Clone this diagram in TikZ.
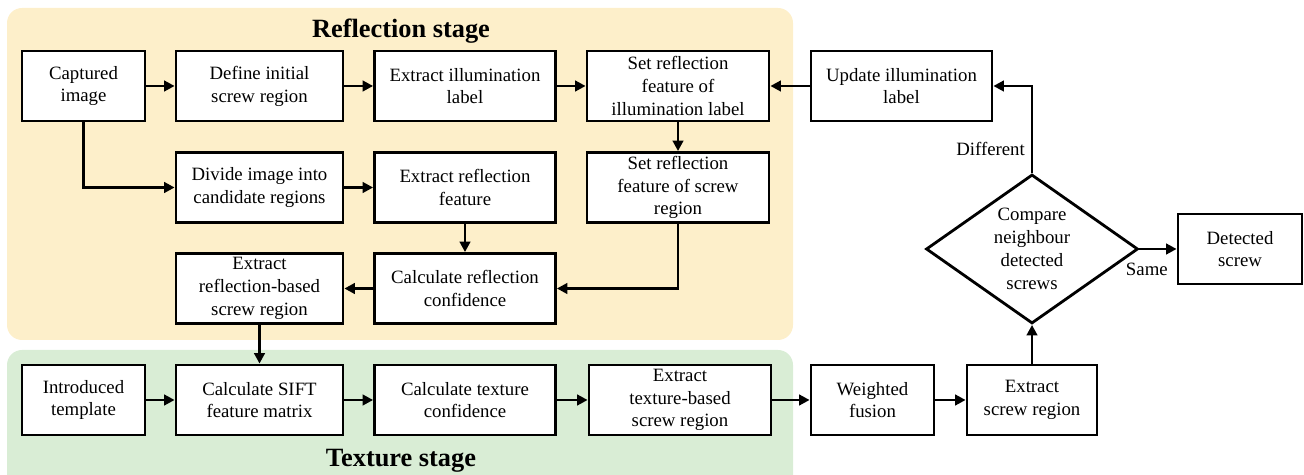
\documentclass[tikz,border=0pt]{standalone}
\usepackage{fontspec}
\setmainfont{Liberation Serif}
\usepackage{tikz}
\usetikzlibrary{
  arrows.meta,      % Triangle 箭头
  shapes.geometric  % 菱形判断框
}

\definecolor{stageyellow}{RGB}{253,239,202}
\definecolor{stagegreen}{RGB}{217,237,213}

\begin{document}
\begin{tikzpicture}[x=0.02cm, y=-0.02cm, >={Triangle[length=6pt,width=6pt]}, line width=1.5pt,
  box/.style={draw, line width=1.6pt, fill=white, align=center, minimum height=1.4cm,
    inner sep=2pt, font=\fontsize{10.7}{13}\selectfont},
  decide/.style={draw, diamond, aspect=1.42, line width=1.6pt, fill=white, align=center,
    inner sep=0pt, minimum width=4.24cm, minimum height=2.98cm, font=\fontsize{10.7}{13}\selectfont},
  stagetitle/.style={font=\bfseries\fontsize{15}{18}\selectfont},
  branch/.style={font=\fontsize{10.7}{13}\selectfont}]

  \clip (0,0) rectangle (1304,475);

  % =========== 背景：两个阶段 ===========
  \fill[stageyellow, rounded corners=0.3cm] (7,8) rectangle (793,340);
  \fill[stagegreen, rounded corners=0.3cm] (7,350) rectangle (793,500);
  \node[stagetitle] (reftitle) at (401,31) {Reflection stage};
  \node[stagetitle] (textitle) at (401,461) {Texture stage};

  % =========== 反射阶段 ===========
  % 第一行
  \node[box, minimum width=2.46cm] (capt) at (83.5,86) {Captured\\image};
  \node[box, minimum width=3.34cm] (defreg) at (259.5,86) {Define initial\\screw region};
  \node[box, minimum width=3.62cm] (exlabel) at (465,86) {Extract illumination\\label};
  \node[box, minimum width=3.64cm] (setlabel) at (678,86) {Set reflection\\feature of\\illumination label};
  \node[box, minimum width=3.62cm] (update) at (901.5,86) {Update illumination\\label};

  % 第二行
  \node[box, minimum width=3.34cm] (divide) at (259.5,187.5) {Divide image into\\candidate regions};
  \node[box, minimum width=3.62cm] (exfeat) at (465,187.5) {Extract reflection\\feature};
  \node[box, minimum width=3.64cm] (setscrew) at (678,187.5) {Set reflection\\feature of screw\\region};

  % 第三行
  \node[box, minimum width=3.34cm] (exrefl) at (259.5,288.5) {Extract\\reflection-based\\screw region};
  \node[box, minimum width=3.62cm] (calrefl) at (465,288.5) {Calculate reflection\\confidence};

  % =========== 纹理阶段 ===========
  \node[box, minimum width=2.46cm] (templ) at (83.5,400) {Introduced\\template};
  \node[box, minimum width=3.34cm] (sift) at (259.5,400) {Calculate SIFT\\feature matrix};
  \node[box, minimum width=3.62cm] (caltex) at (465,400) {Calculate texture\\confidence};
  \node[box, minimum width=3.64cm] (extex) at (680,400) {Extract\\texture-based\\screw region};

  % =========== 融合与判断 ===========
  \node[box, minimum width=2.46cm] (fusion) at (872.5,400) {Weighted\\fusion};
  \node[box, minimum width=2.6cm] (exscrew) at (1032,400) {Extract\\screw region};
  \node[decide] (compare) at (1032,249) {Compare\\neighbour\\detected\\screws};
  \node[box, minimum width=2.48cm] (detect) at (1240,249) {Detected\\screw};

  % =========== 箭头 ===========
  \draw[->] (capt) -- (defreg);
  \draw[->] (defreg) -- (exlabel);
  \draw[->] (exlabel) -- (setlabel);
  \draw[->] (update) -- (setlabel);
  \draw[->] (setlabel) -- (setscrew);
  \draw[->] (capt.south) |- (divide.west);
  \draw[->] (divide) -- (exfeat);
  \draw[->] (exfeat) -- (calrefl);
  \draw[->] (setscrew.south) |- (calrefl.east);
  \draw[->] (calrefl) -- (exrefl);
  \draw[->] (exrefl) -- (sift);

  \draw[->] (templ) -- (sift);
  \draw[->] (sift) -- (caltex);
  \draw[->] (caltex) -- (extex);
  \draw[->] (extex) -- (fusion);
  \draw[->] (fusion) -- (exscrew);
  \draw[->] (exscrew) -- (compare);

  % 判断分支
  \draw[->] (compare.north) |- node[branch, pos=0.14, left] {Different} (update.east);
  \draw[->] (compare) -- node[branch, pos=0.2, below=4pt] {Same} (detect);

\end{tikzpicture}
\end{document}
